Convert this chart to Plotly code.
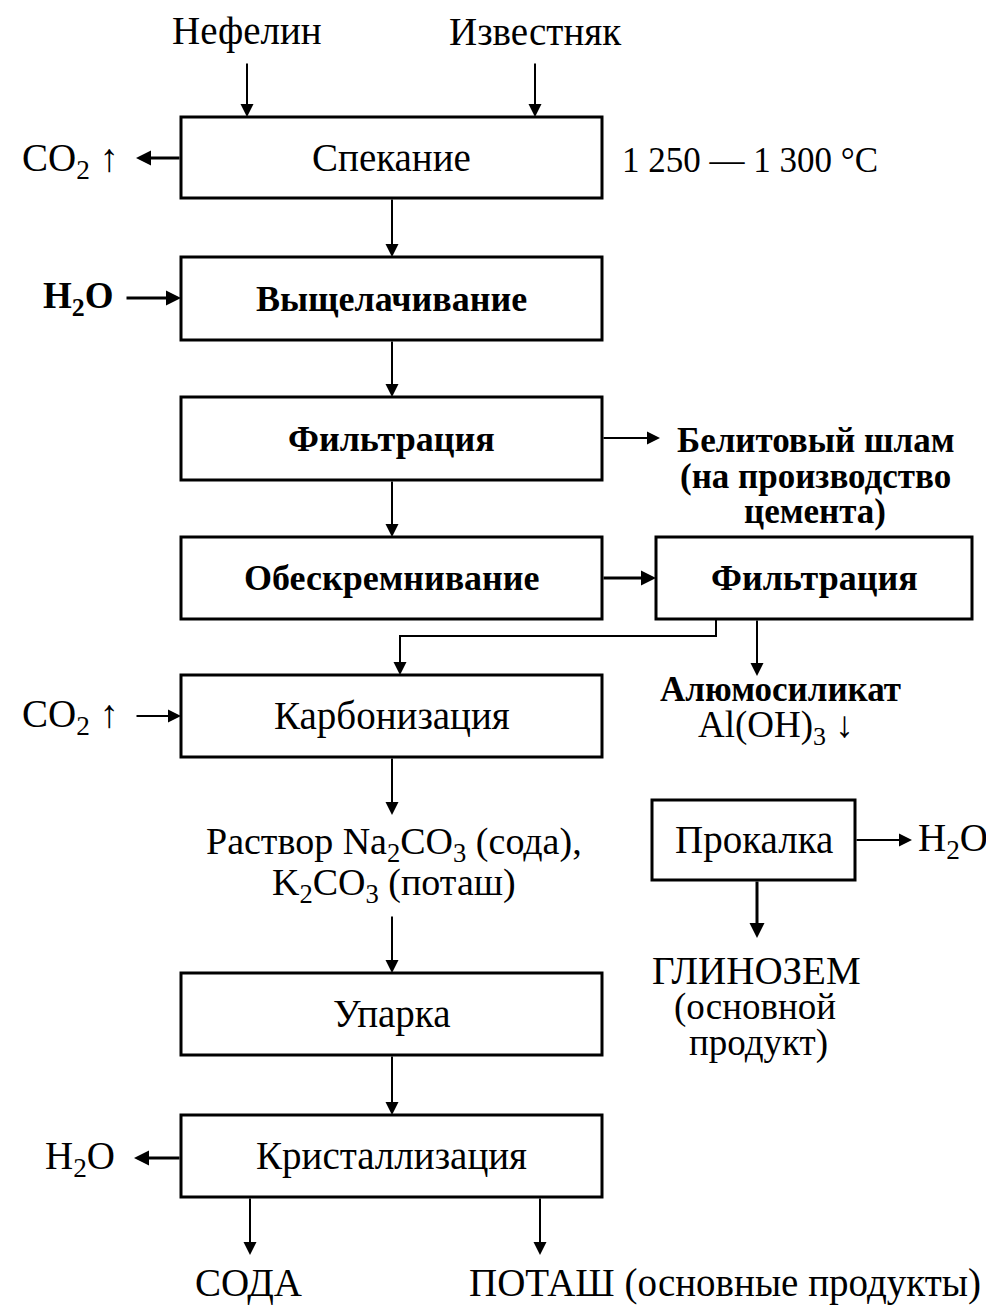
import plotly.graph_objects as go

W, H = 994, 1306
OFF = 8  # page body margin offset
FONT = "Liberation Serif"
REG, BOLD = 39, 36

# ---- process boxes (labels) ----
box_labels = ["Спекание", "Выщелачивание", "Фильтрация", "Обескремнивание", "Фильтрация",
              "Карбонизация", "Прокалка", "Упарка", "Кристаллизация"]
box_bold = [False, True, True, True, True, False, False, False, False]
# layout of the boxes (pixel frame)
box_x0 = [181, 181, 181, 181, 656, 181, 652, 181, 181]
box_x1 = [602, 602, 602, 602, 972, 602, 855, 602, 602]
box_y0 = [117, 257, 397, 537, 537, 675, 800, 973, 1115]
box_y1 = [198, 340, 480, 619, 619, 757, 880, 1055, 1197]

# ---- free text labels ----
text_labels = ["Нефелин", "Известняк", "CO<sub>2</sub> ↑", "1 250 — 1 300 °C", "H<sub>2</sub>O",
               "Белитовый шлам", "(на производство", "цемента)",
               "Алюмосиликат", "Al(OH)<sub>3</sub> ↓", "CO<sub>2</sub> ↑",
               "Раствор Na<sub>2</sub>CO<sub>3</sub> (сода),", "K<sub>2</sub>CO<sub>3</sub> (поташ)",
               "H<sub>2</sub>O", "ГЛИНОЗЕМ", "(основной", "продукт)",
               "H<sub>2</sub>O", "СОДА", "ПОТАШ (основные продукты)"]
text_bold = [False, False, False, False, True,
             True, True, True,
             True, False, False,
             False, False,
             False, False, False, False,
             False, False, False]
text_x = [247, 535, 70, 750, 78, 816, 815, 815, 780, 776, 70, 394, 394, 953, 756, 755, 758, 80, 248, 725]
text_y = [31, 31, 160, 160, 298, 440, 476, 511, 689, 727, 716, 844, 885, 840, 970, 1007, 1043, 1158, 1283, 1283]
text_size = [REG, REG, REG, 35, 37, 35, 35, 35, 35, 37, REG, 38, 38, REG, REG, 37, 37, REG, REG, REG]

# ---- arrows: tail (x, y) -> head (x, y), line width ----
arrows = [
    (247, 62, 247, 117, 2), (535, 62, 535, 117, 2),
    (181, 158, 136, 158, 3),
    (392, 198, 392, 257, 2),
    (125, 298, 181, 298, 3),
    (392, 340, 392, 397, 2),
    (602, 438, 660, 438, 2),
    (392, 480, 392, 537, 2),
    (602, 578, 656, 578, 3),
    (400, 636, 400, 675, 2),
    (757, 619, 757, 676, 2),
    (135, 716, 181, 716, 2),
    (392, 757, 392, 815, 2),
    (392, 915, 392, 973, 2),
    (855, 840, 912, 840, 2),
    (757, 880, 757, 938, 3),
    (392, 1055, 392, 1115, 2),
    (181, 1158, 134, 1158, 3),
    (250, 1197, 250, 1255, 2), (540, 1197, 540, 1255, 2),
]
# connector polyline from right filter to carbonization
connector_x = [716, 716, 400, 400]
connector_y = [619, 636, 636, 645]

fig = go.Figure()

fig.add_trace(go.Scatter(x=connector_x, y=connector_y, mode="lines",
                         line=dict(color="black", width=2), hoverinfo="skip", showlegend=False))

shapes = []
annotations = []
for lab, b, x0, x1, y0, y1 in zip(box_labels, box_bold, box_x0, box_x1, box_y0, box_y1):
    shapes.append(dict(type="rect", xref="x", yref="y", x0=x0, x1=x1, y0=y0, y1=y1,
                       line=dict(color="black", width=3), fillcolor="white", layer="below"))
    annotations.append(dict(x=(x0 + x1) / 2, y=(y0 + y1) / 2, xref="x", yref="y",
                            text=f"<b>{lab}</b>" if b else lab, showarrow=False,
                            font=dict(family=FONT, size=BOLD if b else REG, color="black")))

for lab, b, x, y, s in zip(text_labels, text_bold, text_x, text_y, text_size):
    annotations.append(dict(x=x, y=y, xref="x", yref="y",
                            text=f"<b>{lab}</b>" if b else lab, showarrow=False,
                            font=dict(family=FONT, size=s, color="black")))

for (tx, ty, hx, hy, w) in arrows:
    annotations.append(dict(x=hx, y=hy, ax=tx, ay=ty, xref="x", yref="y", axref="x", ayref="y",
                            text="", showarrow=True, arrowhead=2, arrowsize=1.3 if w == 2 else 1.0,
                            arrowwidth=w, arrowcolor="black", standoff=0, startstandoff=0))

fig.update_layout(
    width=W - OFF, height=H - OFF, margin=dict(l=0, r=0, t=0, b=0),
    paper_bgcolor="white", plot_bgcolor="white",
    xaxis=dict(range=[OFF, W], visible=False, fixedrange=True),
    yaxis=dict(range=[H, OFF], visible=False, fixedrange=True),
    shapes=shapes, annotations=annotations, showlegend=False,
)

fig.write_html("out.html")
